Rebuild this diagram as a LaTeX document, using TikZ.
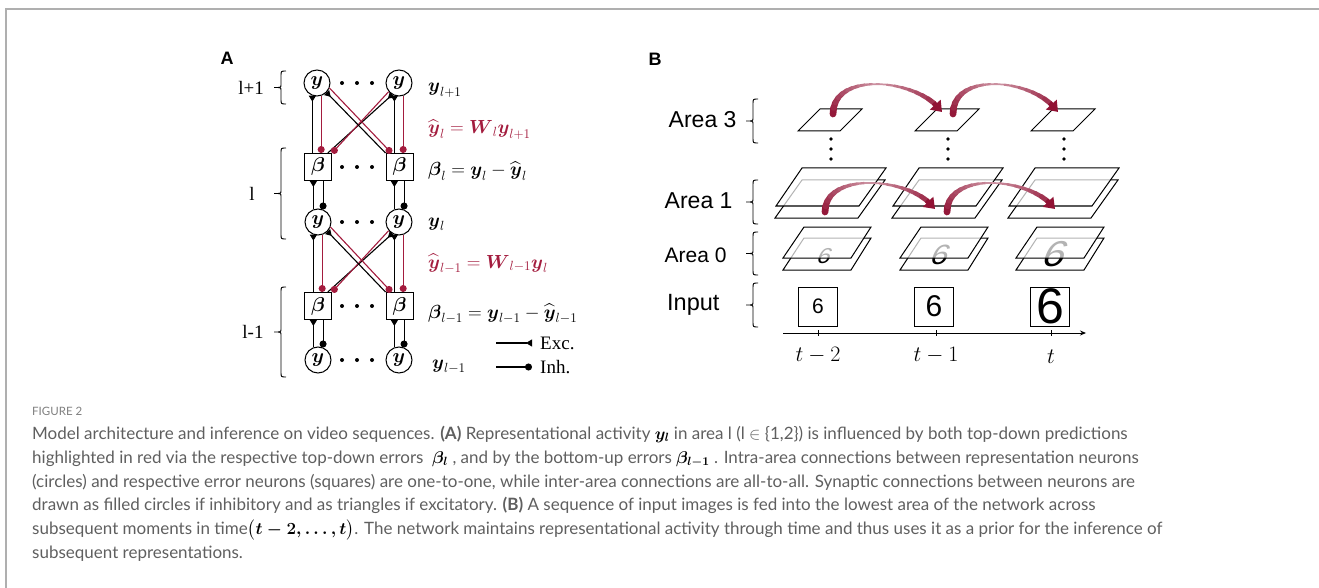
\RequirePackage{fix-cm}
\documentclass[tikz,border=0pt]{standalone}
\usepackage{amsmath}
\usepackage{amssymb}
\usepackage[no-math]{fontspec}
\setmainfont{Lato}
\newfontfamily\arialfont{Liberation Sans}
\newfontfamily\timesfont{Liberation Serif}
\usetikzlibrary{arrows.meta,positioning}
\usetikzlibrary{calc}

\definecolor{predred}{RGB}{163,28,62}
\definecolor{arcred}{RGB}{145,18,52}
\definecolor{capgray}{RGB}{95,95,95}
\definecolor{framegray}{RGB}{175,175,175}

% curly side brace: spine x, top y, bottom y
\newcommand{\sidebrace}[3]{%
  \draw[line width=0.9pt] (#1+5,#2) .. controls (#1,#2) .. (#1,#2+5)
    -- (#1,{(#2+#3)/2-3}) .. controls (#1,{(#2+#3)/2}) .. (#1-7,{(#2+#3)/2})
    .. controls (#1,{(#2+#3)/2}) .. (#1,{(#2+#3)/2+3})
    -- (#1,#3-5) .. controls (#1,#3) .. (#1+5,#3);}

% tapered red arc: start, end, rise
\newcommand{\redarc}[3]{%
  \foreach \k in {0,...,20}{
    \path (#1) .. controls +(0,-#3) and +(-22,{-0.75*#3}) .. (#2) coordinate[pos=\k/20] (arcq\k);
  }
  \foreach \k in {1,...,18}{
    \pgfmathsetmacro\tpos{(\k-0.5)/20}
    \pgfmathsetmacro\arcw{\tpos<0.5 ? 7-11*\tpos : 1.5+9*(\tpos-0.5)}
    \pgfmathtruncatemacro\arcmix{100-110*(0.5-abs(\tpos-0.5))}
    \pgfmathtruncatemacro\arcprev{\k-1}
    \draw[line width=\arcw pt, arcred!\arcmix!white, line cap=round] (arcq\arcprev) -- (arcq\k);
  }
  \draw[arcred, line width=5pt, -{Triangle[length=10pt,width=14pt]}] (arcq18) -- (arcq20);
}

\begin{document}
\begin{tikzpicture}[
    x=1pt, y=-1pt,
    neuron/.style={circle, draw, line width=1pt, minimum size=26pt, inner sep=0pt,
        font=\fontsize{20}{20}\selectfont},
    errnode/.style={rectangle, draw, line width=1pt, minimum size=27pt, inner sep=0pt,
        font=\fontsize{20}{20}\selectfont},
    conn/.style={line width=1.1pt},
    exc/.style={conn, -{Triangle[reversed,length=6pt,width=7pt]}},
    inh/.style={conn, -{Circle[length=7pt]}},
    pred/.style={conn, predred, -{Circle[length=7pt]}},
    eqlbl/.style={anchor=base west, inner sep=0pt, font=\fontsize{19}{19}\selectfont},
    lyr/.style={font=\timesfont\fontsize{19}{19}\selectfont},
    area/.style={anchor=east, font=\arialfont\fontsize{23}{23}\selectfont},
    plane/.style={draw, line width=1pt, fill=white, fill opacity=0.7},
    inbox/.style={draw, line width=1pt, minimum size=39pt, inner sep=0pt},
    capline/.style={anchor=base west, inner sep=0pt, text=capgray,
        font=\fontsize{17}{17}\selectfont},
]
\useasboundingbox (0,0) rectangle (1319,588);
\draw[framegray, line width=2pt] (6,588) -- (6,9.5) -- (1319,9.5);

% ---- panel A
\node[font=\arialfont\bfseries\fontsize{18}{18}\selectfont] (labA) at (227,58.5) {A};

\node[neuron] (yup1) at (317,83) {$\boldsymbol{y}$};
\node[neuron] (yup2) at (399,83) {$\boldsymbol{y}$};
\node[errnode] (bmid1) at (318,167) {$\boldsymbol{\beta}$};
\node[errnode] (bmid2) at (399.5,167) {$\boldsymbol{\beta}$};
\node[neuron] (ymid1) at (318,222) {$\boldsymbol{y}$};
\node[neuron] (ymid2) at (399,222) {$\boldsymbol{y}$};
\node[errnode] (blow1) at (318,306) {$\boldsymbol{\beta}$};
\node[errnode] (blow2) at (399.5,306) {$\boldsymbol{\beta}$};
\node[neuron] (ylow1) at (318,360) {$\boldsymbol{y}$};
\node[neuron] (ylow2) at (399,360) {$\boldsymbol{y}$};

\foreach \row in {83,167,222,306,360}
    \foreach \dx in {342,357,372}
        \fill (\dx,\row) circle (2);

% between areas
\foreach \yy/\bb in {yup/bmid, ymid/blow} {
    \foreach \c in {1,2} {
        \draw[exc] (\yy\c.-110 |- \bb\c.north) -- (\yy\c.-110);
        \draw[pred] (\yy\c.-72) -- (\yy\c.-72 |- \bb\c.north);
    }
    \draw[exc] (\bb1.55) -- (\yy2.-120);
    \draw[pred] (\yy2.-140) -- (\bb1.north east);
    \draw[exc] (\bb2.north west) -- (\yy1.-45);
    \draw[pred] (\yy1.-22) -- (\bb2.120);
}
% within an area
\foreach \bb/\yy in {bmid/ymid, blow/ylow} {
    \foreach \c in {1,2} {
        \draw[exc] (\yy\c.110) -- (\yy\c.110 |- \bb\c.south);
        \draw[inh] (\yy\c.68 |- \bb\c.south) -- (\yy\c.68);
    }
}

\sidebrace{281}{71}{104}
\sidebrace{281}{148}{239}
\sidebrace{281}{287}{377}
\node[lyr] (lyrup) at (251,88) {l+1};
\node[lyr] (lyrmid) at (252,194) {l};
\node[lyr] (lyrlow) at (253,332) {l-1};

\node[eqlbl] (eqyup) at (428,92) {$\boldsymbol{y}_{l+1}$};
\node[eqlbl, text=predred] (eqpup) at (428,134) {$\widehat{\boldsymbol{y}}_l = \boldsymbol{W}_l\boldsymbol{y}_{l+1}$};
\node[eqlbl] (eqbmid) at (428,176) {$\boldsymbol{\beta}_l = \boldsymbol{y}_l - \widehat{\boldsymbol{y}}_l$};
\node[eqlbl] (eqymid) at (428,226) {$\boldsymbol{y}_l$};
\node[eqlbl, text=predred] (eqplow) at (428,268) {$\widehat{\boldsymbol{y}}_{l-1} = \boldsymbol{W}_{l-1}\boldsymbol{y}_l$};
\node[eqlbl] (eqblow) at (428,318) {$\boldsymbol{\beta}_{l-1} = \boldsymbol{y}_{l-1} - \widehat{\boldsymbol{y}}_{l-1}$};
\node[eqlbl] (eqylow) at (432,368) {$\boldsymbol{y}_{l-1}$};

\coordinate (excA) at (496,343);
\coordinate (excB) at (532,343);
\coordinate (inhA) at (496,367);
\coordinate (inhB) at (532,367);
\draw[exc] (excA) -- (excB);
\draw[inh] (inhA) -- (inhB);
\node[lyr, anchor=west, right=8pt of excB, inner sep=0pt] (exctxt) {Exc.};
\node[lyr, anchor=west, right=8pt of inhB, inner sep=0pt] (inhtxt) {Inh.};

% ---- panel B
\node[font=\arialfont\bfseries\fontsize{18}{18}\selectfont] (labB) at (655,59) {B};

\node[area] (ar3) at (740,120) {Area 3};
\node[area] (ar1) at (736,201) {Area 1};
\node[area, font=\arialfont\fontsize{21}{21}\selectfont] (ar0) at (730,255) {Area 0};
\node[area, font=\arialfont\fontsize{23.5}{23.5}\selectfont] (arin) at (723,305) {Input};
\sidebrace{753}{99}{143}
\sidebrace{753}{180}{224}
\sidebrace{753}{232}{275}
\sidebrace{753}{283}{327}

\foreach \dx/\dsz/\dy in {0/24/256,117/31/255,233/40/254} {
    \draw[plane] (798+\dx,131) -- (840+\dx,131) -- (862+\dx,109) -- (820+\dx,109) -- cycle;
    \foreach \vd in {139,149,159}
        \fill (831+\dx,\vd) circle (1.9);
    \draw[plane] (775+\dx,218) -- (858+\dx,218) -- (885+\dx,180) -- (802+\dx,180) -- cycle;
    \draw[plane] (776+\dx,206) -- (859+\dx,206) -- (886+\dx,168) -- (802+\dx,168) -- cycle;
    \draw[plane] (783+\dx,270) -- (851+\dx,270) -- (871+\dx,238) -- (804+\dx,238) -- cycle;
    \begin{scope}[shift={(825+\dx*0.99,\dy)}, xslant=0.4, yscale=0.9]
        \node[transform shape, inner sep=0pt, font=\arialfont\fontsize{\dsz}{\dsz}\selectfont] at (0,0) {6};
    \end{scope}
    \draw[plane] (783+\dx,258) -- (851+\dx,258) -- (871+\dx,227) -- (804+\dx,227) -- cycle;
}

\node[inbox, font=\arialfont\fontsize{21}{21}\selectfont] (inp1) at (818,306.5) {6};
\node[inbox, font=\arialfont\fontsize{30}{30}\selectfont] (inp2) at (934,306.5) {6};
\node[inbox, font=\arialfont\fontsize{50}{50}\selectfont] (inp3) at (1050,306.5) {6};

\coordinate (tax0) at (783,333);
\coordinate (tax1) at (1086,333);
\draw[line width=0.9pt, -{Stealth[length=6pt,width=5pt]}] (tax0) -- (tax1);
\foreach \tx/\tl in {818/t-2, 936/t-1} {
    \draw[line width=0.9pt] (\tx,330) -- (\tx,336);
    \node[font=\fontsize{22}{22}\selectfont] at (\tx,355) {$\tl$};
}
\draw[line width=0.9pt] (1051,330) -- (1051,336);
\node[font=\fontsize{22}{22}\selectfont] (tnow) at (1051,357) {$t$};

\coordinate (a3s1) at (833,114);
\coordinate (a3e1) at (942,112);
\coordinate (a3s2) at (953,114);
\coordinate (a3e2) at (1058,112);
\coordinate (a1s1) at (825,212);
\coordinate (a1e1) at (935,209);
\coordinate (a1s2) at (947,212);
\coordinate (a1e2) at (1055,209);
\redarc{a3s1}{a3e1}{44}
\redarc{a3s2}{a3e2}{44}
\redarc{a1s1}{a1e1}{42}
\redarc{a1s2}{a1e2}{42}

% ---- caption
\node[anchor=base west, inner sep=0pt, text=capgray!80, font=\fontsize{11.5}{12}\selectfont] (figlab) at (32,415) {FIGURE 2};
\node[capline] (cap1) at (32,439) {Model architecture and inference on video sequences. \textbf{(A)} Representational activity {\color{black}$\boldsymbol{y_l}$} in area l (l $\in$ \{1,2\}) is influenced by both top-down predictions};
\node[capline] (cap2) at (32,463) {highlighted in red via the respective top-down errors\ \ {\color{black}$\boldsymbol{\beta_l}$}\ , and by the bottom-up errors {\color{black}$\boldsymbol{\beta_{l-1}}$}\ . Intra-area connections between representation neurons};
\node[capline] (cap3) at (32,487) {(circles) and respective error neurons (squares) are one-to-one, while inter-area connections are all-to-all. Synaptic connections between neurons are};
\node[capline] (cap4) at (32,510) {drawn as filled circles if inhibitory and as triangles if excitatory. \textbf{(B)} A sequence of input images is fed into the lowest area of the network across};
\node[capline] (cap5) at (32,534) {subsequent moments in time{\color{black}$\bigl(\boldsymbol{t-2,\ldots,t}\bigr)$}. The network maintains representational activity through time and thus uses it as a prior for the inference of};
\node[capline] (cap6) at (32,558) {subsequent representations.};
\end{tikzpicture}
\end{document}
